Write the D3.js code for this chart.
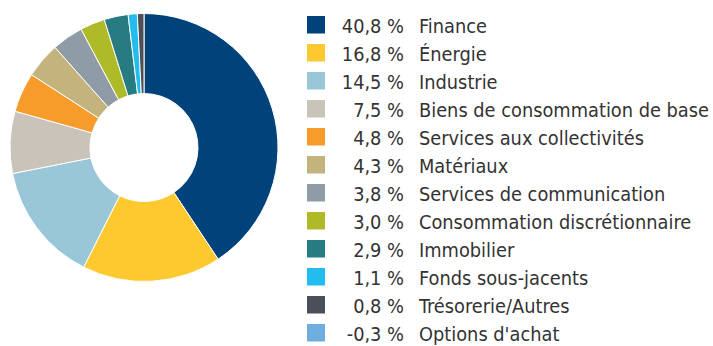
<!DOCTYPE html>
<html>
<head>
<meta charset="utf-8">
<script src="https://cdn.jsdelivr.net/npm/d3@7"></script>
<style>
  html, body { margin: 0; padding: 0; background: #fff; }
  svg { display: block; }
  text { font-family: "DejaVu Sans Condensed", "Liberation Sans Narrow", "Liberation Sans", sans-serif; fill: #333; }
</style>
</head>
<body>
<svg id="chart" width="713" height="346"></svg>
<script>
// Sector allocation (percent of portfolio)
const sectors = [
  "Finance", "Énergie", "Industrie", "Biens de consommation de base",
  "Services aux collectivités", "Matériaux", "Services de communication",
  "Consommation discrétionnaire", "Immobilier", "Fonds sous-jacents",
  "Trésorerie/Autres", "Options d'achat"
];
const weights = [40.8, 16.8, 14.5, 7.5, 4.8, 4.3, 3.8, 3.0, 2.9, 1.1, 0.8, -0.3];
const colors = [
  "#00427a", "#fec82f", "#99c7d7", "#c9c3ba", "#f79b2a", "#c3b37d",
  "#8f9ca5", "#afba29", "#277c82", "#22bdee", "#4b4f58", "#6daedf"
];

const svg = d3.select("#chart");
const fmt = v => d3.format(".1f")(v).replace(".", ",").replace("\u2212", "-") + " %";

const data = sectors.map((s, i) => ({ name: s, value: weights[i], color: colors[i] }));

// Donut: only positive weights take up angle
const pie = d3.pie().sort(null).value(d => Math.max(0, d.value));
const arc = d3.arc().innerRadius(54).outerRadius(134);

const g = svg.append("g").attr("transform", "translate(144,147.5)");
g.selectAll("path")
  .data(pie(data).filter(d => d.data.value > 0))
  .join("path")
  .attr("d", arc)
  .attr("fill", d => d.data.color)
  .attr("stroke", "#fff")
  .attr("stroke-width", 1);

// Legend: squeeze type horizontally if needed so the longest label ends at the margin
const fontSize = 19.8;
const labelX = 419, labelRight = 710, pctRight = 404;
const probe = svg.append("text").attr("font-size", fontSize)
  .text(d3.greatest(sectors, s => s.length));
const sx = Math.min(1, (labelRight - labelX) / probe.node().getComputedTextLength());
probe.remove();

const y = d3.scalePoint().domain(sectors).range([24.5, 332.5]);
const leg = svg.append("g");
const rows = leg.selectAll("g").data(data).join("g")
  .attr("transform", d => `translate(0,${y(d.name)})`);
rows.append("rect")
  .attr("x", 307).attr("y", -8.5).attr("width", 18).attr("height", 17.5)
  .attr("fill", d => d.color);
rows.append("text")
  .attr("transform", `translate(${pctRight},8) scale(${sx},1)`)
  .attr("text-anchor", "end")
  .attr("font-size", fontSize)
  .text(d => fmt(d.value));
rows.append("text")
  .attr("transform", `translate(${labelX},8) scale(${sx},1)`)
  .attr("font-size", fontSize)
  .text(d => d.name);
</script>
</body>
</html>
